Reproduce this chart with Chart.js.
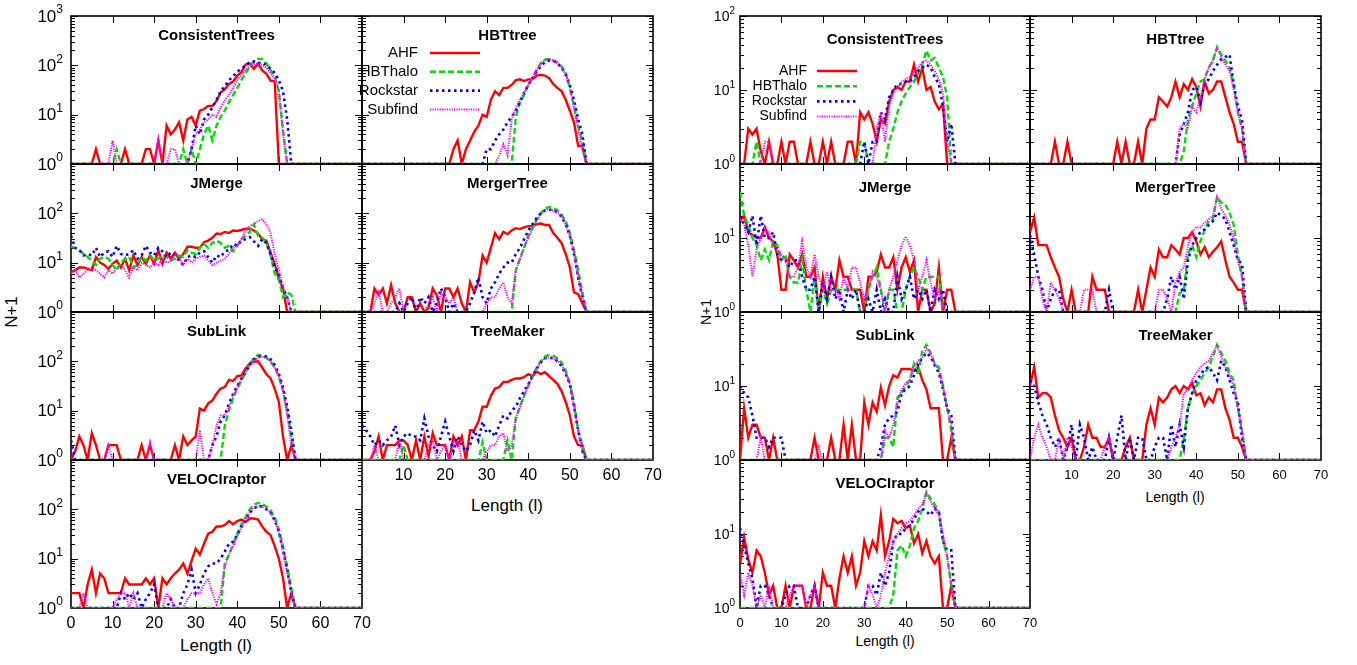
<!DOCTYPE html>
<html>
<head>
<meta charset="utf-8">
<script src="https://cdn.jsdelivr.net/npm/chart.js@4.4.0/dist/chart.umd.min.js"></script>
<style>
  body { margin: 0; background: #fff; width: 1357px; height: 665px; position: relative; overflow: hidden;
         font-family: "Liberation Sans", Arial, Helvetica, sans-serif; }
  canvas { position: absolute; }
  .axt { position: absolute; color: #000; white-space: nowrap; transform: translate(-50%, -50%); }
  .rot { transform: translate(-50%, -50%) rotate(-90deg); }
</style>
</head>
<body>
<div class="axt rot" style="left:12px;top:312px;font-size:17px">N+1</div>
<div class="axt" style="left:507px;top:506px;font-size:17px">Length (l)</div>
<div class="axt" style="left:216px;top:646px;font-size:17px">Length (l)</div>
<div class="axt rot" style="left:706px;top:312px;font-size:14px">N+1</div>
<div class="axt" style="left:1175px;top:497px;font-size:14px">Length (l)</div>
<div class="axt" style="left:885px;top:641px;font-size:14px">Length (l)</div>
<script>
// ==================== DATA ====================
// N+1 per length l, starting at l = 0; beyond the last value every series sits at 1 up to l = 70
const seriesNames = ['AHF', 'HBThalo', 'Rockstar', 'Subfind'];
const xTicksFull = [0, 10, 20, 30, 40, 50, 60, 70];
const xTicksNoZero = [10, 20, 30, 40, 50, 60, 70];

// --- left block (N+1 up to 10^3) ---
const ctL_AHF  = [1,1,1,1,1,1,2,1,1,1, 1,1,1,2,1,1,1,1,2,2, 1,3,1,6,4,5,7,3,8,9, 6,12,13,15,15,19,28,33,42,47, 62,73,104,108,85,108,79,67,49,47, 1];
const ctL_HBT  = [1,1,1,1,1,1,1,1,1,1, 1,2,1,1,1,1,1,1,1,1, 1,1,1,1,1,1,1,2,1,2, 1,2,4,6,3,6,9,12,18,25, 35,50,70,95,120,135,135,110,80,60, 30,5,1];
const ctL_Rock = [1,1,1,1,1,1,1,1,1,1, 1,1,1,1,1,1,1,1,1,1, 1,1,1,1,1,1,1,1,1,2, 6,4,8,10,14,20,30,38,50,60, 75,85,100,115,120,110,115,100,85,70, 50,30,8,1];
const ctL_Sub  = [1,1,1,1,1,1,1,1,1,1, 3,1,1,1,1,1,1,1,1,1, 1,3,1,1,2,2,1,1,1,2, 4,5,7,8,10,9,14,20,25,35, 50,65,80,100,105,110,100,90,70,55, 30,4,1];

const hbtL_AHF  = [1,1,1,1,1,1,1,1,1,1, 1,1,1,1,1,1,1,1,1,1, 1,1,2,3,1,2,3,4.5,6,10, 9,20,30,25,35,35,40,50,52,48, 52,52,62,64,62,55,42,35,30,20, 12,7,2.3,2.3,1];
const hbtL_HBT  = [1,1,1,1,1,1,1,1,1,1, 1,1,1,1,1,1,1,1,1,1, 1,1,1,1,1,1,1,1,1,1, 1,1,1,1,1,1,1,9,18,25, 40,55,80,110,130,135,125,115,95,70, 35,15,6,3,1];
const hbtL_Rock = [1,1,1,1,1,1,1,1,1,1, 1,1,1,1,1,1,1,1,1,1, 1,1,1,1,1,1,1,1,1,1, 2,2,3,4,5,7,9,12,18,28, 40,55,75,95,115,125,125,110,90,65, 40,20,8,4,1];
const hbtL_Sub  = [1,1,1,1,1,1,1,1,1,1, 1,1,1,1,1,1,1,1,1,1, 1,1,1,1,1,1,1,1,1,1, 1,1,1,1.5,2.5,1.5,8,14,20,28, 40,55,80,110,130,135,125,110,90,65, 35,14,5,2,1];

const jmL_AHF  = [6.5,7,8,8,7.5,7,13,10,9,7.5, 9.5,11,8,12,7,14,9,13,9.5,14, 9.5,18,9.5,16,12,16,12,15,21,21, 20,20,26,28,32,39,38,42,40,45, 44,46,49,49,45,39,30,28,16,9.5, 4.7,3,1];
const jmL_HBT  = [21,20,18,15,13,11,9,12,13,12, 9,7,10,12,13,8,9,13,11,14, 11,12,14,13,11,12,14,13,18,16, 15,20,24,20,25,28,25,20,22,17, 22,30,35,42,60,35,32,25,14,6, 4.5,2,2.5,2.2,1];
const jmL_Rock = [35,20,18,14,15,14,20,13,16,17, 13,22,15,14,15,18,12,14,22,16, 14,20,17,13,16,14,11,9,13,14, 13,16,17,13,10,14,13,17,18,24, 22,28,30,33,27,22,30,25,15,8, 6,3,2,1];
const jmL_Sub  = [6,7,5,6,7,8,7,6,5,7, 6,8,9,7,5,8,7,10,9,8, 10,9,12,10,11,15,12,9,12,10, 12,13,14,11,9,10,11,12,15,20, 22,30,45,55,60,70,75,60,40,15, 7,3,2,1];

const mtL_AHF  = [1,1,1,3,2.2,3,1.5,3.5,1.5,1, 1,2,2,1,1.5,1,1.2,3,2.2,1, 3,3,2,3,1.5,1,4,2.5,4,14, 10,20,40,30,42,38,45,50,48,52, 55,55,60,62,58,58,40,32,25,15, 8,2.5,2.3,1.5,1];
const mtL_HBT  = [1,1,1,1,1,1,1,1,1,1, 1,1,1,1,1,1,1,1,1,1, 1,1,1,1,1,1,1,1,1,1, 1,1,1,1,1,1,1,7,12,20, 35,50,75,100,125,135,130,115,95,70, 40,18,7,2.5,1];
const mtL_Rock = [1,1,1,1,1,1,1,1,1,1.5, 1,1.5,2,1,2,1.5,2,1,1.5,3, 2,1,1.5,1,1,1,1.5,2.5,5,2, 1.5,3,4,6,8,10,10,15,20,30, 45,60,80,100,115,120,115,105,85,60, 35,15,5,2,1];
const mtL_Sub  = [1,1,1,1.5,2.5,1,1,1.5,2,3, 1,1,1,1,1,1,1.5,2,1,2.5, 2,1.5,2,1,1,1,1,1,1,1, 1.5,2,2,3,4,2,1.5,7,12,20, 32,48,70,95,115,120,115,105,85,60, 35,15,5,2,1];

const slL_AHF  = [1,1.5,3,2,1,3.5,2,1,1,2, 2,2,1,1,1,1,1,2,1,2, 1,1,1,1,1,2,1,3,2,2.5, 3,11,10,14,16,22,28,30,42,40, 50,52,72,90,98,100,75,55,45,28, 15,3,1,2,1];
const slL_HBT  = [1,1,1,1,1,1,1,1,1,1, 1,1,1,1,1,1,1,1,1,1, 1,1,1,1,1,1,1,1,1,1, 1,1,1,1,1,1,1,5,10,18, 28,40,60,90,115,135,130,120,100,75, 50,25,10,3,1];
const slL_Rock = [2.5,1,1,1,1,1,1,1,1,1, 1,1,1,1,1,1,1,1,1,1, 1,1,1,1,1,1,1,1,1,1, 1,1,1,1,2,3,6,8,14,22, 32,45,60,85,110,125,130,125,110,85, 55,30,12,4,1];
const slL_Sub  = [1,1,1,1,1,1,1,1,1,2, 1,1,1,1,1,1,1,1,1,2.3, 1,1,1,1,1,1,1,1,1,1, 1,4,1,1,2,5,8,8,12,20, 30,45,60,80,100,120,125,115,100,75, 50,25,8,2,1];

const tmL_AHF  = [1,1,1,1.5,3,1,2,2,2,2.5, 2.5,2,1,2.5,1,3,1.2,3.5,2,2, 2,1,3,2,3,1,4,4,6,12, 12,20,28,30,38,38,42,45,45,48, 55,50,62,55,60,50,42,35,25,15, 8,3,2,2,1];
const tmL_HBT  = [1,1,1,1,1,1,1,1,1,1, 2,1,1,1,1,1,1,1,1,1, 1,1,1,1,1,1,1,1,1,2.3, 1,1,1,1,1,2.5,1,7,12,20, 32,50,75,100,125,135,130,115,95,65, 35,15,4,2,1];
const tmL_Rock = [5,4,3,2,2.5,2,2.5,3,5,2, 3,3.5,3,3,2.5,7,3,2,1.5,3, 6,3,1.5,3,2,1.5,2,4,2.5,6, 3.5,4,3,5,8,7,10,12,18,25, 35,50,70,95,115,120,115,100,80,55, 35,12,4,1.5,1];
const tmL_Sub  = [1,1,1,2,1,1,1,1,1,2.5, 1,1,1,1,1,1,2,2.5,1,1.5, 2,1,2,2.5,1,1,1,1,1,1, 1.5,2,2,3,3.5,1.5,2,7,12,20, 32,48,70,95,115,120,115,105,85,60, 35,12,4,1.5,1];

const vrL_AHF  = [2,2,2,1,3,6,2,5,4,2, 2,2,2,4,3,3,3,3,4,3, 4,1,4,3,4,5,6,8,5,9, 16,12,20,32,35,45,45,48,58,50, 58,62,55,65,65,62,45,35,30,18, 10,4,1,2,1];
const vrL_HBT  = [1,1,1,1,1,1,1,1,1,1, 1,1,1,1,1,1,1,1,1,1, 1,1,1,1,1,1,1,1,1,1, 1,1,1,1,1,1,1,8,12,20, 32,50,70,100,125,135,130,115,95,70, 40,18,7,2.5,1];
const vrL_Rock = [1,1,1,1,1,1,1,1,1,1, 1,1,2,1.5,2,1.5,2,1,1.5,2, 3,1,1,1,1.5,1,1,2,3,6, 2,3,5,7,8,8,10,14,20,22, 30,45,60,85,105,115,115,100,85,60, 35,15,6,2,1];
const vrL_Sub  = [1,1,1,2,1,1,1,1,1,1, 1,1.5,2,2,1,2,1,1,1,1, 1,1,1,2,1.5,1,1,1,1.5,2, 2,2,3,4,2,1.2,2,7,12,18, 28,42,62,90,110,115,115,105,85,60, 35,14,5,2,1];

// --- right block (N+1 up to 10^2) ---
const ctR_AHF  = [1,1,3,2.5,3,1.5,1,2,1,1, 2,1,2,2,1,1,1,2,1,1, 2,1,2,1,1,1,2,2,1,5, 4,5,3.5,2,4,3.5,7,10,11,10, 13,13,22,13,20,10,11,7,5.5,6.5, 1];
const ctR_HBT  = [1,1,1,1,2,1,1,1,1,1, 1,1,1,1,1,1,1,1,1,1, 1,1,1,1,1,1,1,1,1,2, 2,1,1,1,1,1,2,3,5,7, 9,11,13,17,22,34,25,27,20,15, 8,1];
const ctR_Rock = [1,1,1,1,1,1,1,1,1,1, 1,1,1,1,1,1,1,1,1,1, 1,1,1,1,1,1,1,1,1,1, 2,1,2,2,5,4,8,10,12,12, 13,13,15,18,20,22,20,15,12,6, 2,3.5,1];
const ctR_Sub  = [1,1,1,1,1,1,2,2,1,1, 1,1,1,1,1,1,1,1,1,1, 1,1,1,1,1,1,1,1,1,1, 1,1,1,3,5,2,6,9,11,13, 14,15,17,20,24,25,22,18,14,9, 2,1];

const hbtR_AHF  = [1,1,1,1,1,1,2,1,1,2, 1,1,1,1,1,1,1,1,1,1, 1,2,1,2,1,1,2,1,3,4, 4,8,7,6,8,13,8,12,10,14, 11,6,13,9,10,13,13,8,5,3.5, 2,2,1];
const hbtR_HBT  = [1,1,1,1,1,1,1,1,1,1, 1,1,1,1,1,1,1,1,1,1, 1,1,1,1,1,1,1,1,1,1, 1,1,1,1,1,1,1,1.5,4,6, 9,13,14,20,25,38,30,25,20,12, 5,3,1];
const hbtR_Rock = [1,1,1,1,1,1,1,1,1,1, 1,1,1,1,1,1,1,1,1,1, 1,1,1,1,1,1,1,1,1,1, 1,1,1,1,1,1,2.5,3.5,5,10, 11,7,12,14,18,22,26,28,30,12, 6,4,1];
const hbtR_Sub  = [1,1,1,1,1,1,1,1,1,1, 1,1,1,1,1,1,1,1,1,1, 1,1,1,1,1,1,1,1,1,1, 1,1,1,1,1,1,3,3.5,3,6, 5,8,14,20,25,37,28,22,18,10, 5,3,1];

const jmR_AHF  = [17,20,12,11,10,10,14,10,9,6, 2,2,6,5,4,6,3,3,4,1, 3,1.5,3,2,5,3,3,2,2,2, 1,3,3,3.5,6,4,4,5.5,2,4, 5.5,3.5,5,1,2,2,1,1.3,4,1, 2,2,1];
const jmR_HBT  = [42,20,15,10,8,5,7,5,9,8, 5,6,3,2.5,2.5,5,2,1,3,1, 2,1.3,2,2,2,2,2,2,2,1, 1,2,3,4,2,1,2,2,1,1, 2,3,4,3,2,3,3,3,3,1, 1];
const jmR_Rock = [20,15,12,20,8,20,10,10,12,6, 5,5,4,5,5,3,2,2,3,1, 2.5,1.5,3,1.5,2,1,2,1.5,2,1, 1,1.5,1,2,1,1.5,1,1,3,1.5, 2,3,1.5,2,1.5,2,1,2,1.5,2, 1];
const jmR_Sub  = [18,15,8,3,7,10,13,12,8,7, 6,5,3,3,4,9,4,3,6,3, 2,3.5,2,2,1.5,3,2,4,4,2.5, 1.5,2,3.5,3,2,1,2,3,5,8, 10.5,8,5,2,3,5,2.5,1.5,2,1, 1];

const mtR_AHF  = [12,19,8,8,8,5.5,4,3,1.5,1, 2,1,1,1,1,3,2,2,2,1, 1,1,1,1,1,1,2,1,2,4, 3,7,5.5,5.5,8,7,6,10,10,12, 9,6,7.5,5.5,6.5,7.5,9,5,3,2.5, 2,2,1];
const mtR_HBT  = [1,1,1,1,1,1,1,1,1,1, 1,1,1,1,1,1,1,1,1,1, 1,1,1,1,1,1,1,1,1,1, 1,1,1,1,1,1,1.8,2,6,8, 5.5,9,13,17,18,36,30,28,22,15, 6,3,1];
const mtR_Rock = [11,6,3,2,1,1.5,2,2,1,1, 1,1,1,1,1,1,1,1,1,2, 1,1,1,1,1,1,1,1,1,1, 1,1,1,1.5,3,2,3,1.5,5,8, 10,12,13,15,17,22,20,18,12,8, 5,4.5,1];
const mtR_Sub  = [2,3,3,1.5,1,2.5,2,1.5,1,1, 1,1,1,2,2,2,1,1,1,1, 1,1,1,1,1,1,1,1,1,1, 1,2,2,1.5,1,2.5,3.5,4,8,12, 14,14,16,18,20,36,25,20,15,10, 5,3,1];

const slR_AHF  = [1,5,2,3,3,2,2,1,2,1, 1,1,1,1,1,1,1,1,2,1, 1,1,2,1,1,3,1,3,1,1, 6,3,6,4.5,9.5,5.5,10,14,13,17, 17,17,16,18,12,9,5,5,5,1, 1,2,1];
const slR_HBT  = [1,1,1,1,1,1,1,1,1,1, 1,1,1,1,1,1,1,1,1,1, 1,1,1,1,1,1,1,1,1,1, 1,1,1,1,1,2,2,1.5,7,8, 10,12,20,14,30,36,28,20,18,10, 5,2.5,1];
const slR_Rock = [10,8,7,4,2,2,2,1.5,2,2, 2,1,1,1,1,1,1,1,1,1, 1,1,1,1,1,1,1,1,1,1, 1,1,1,1,1.5,3,3.7,4,4.5,8, 9,10,14,20,24,28,25,19,15,9, 5,4,1];
const slR_Sub  = [1,1,1,1,1,2,1,1,1,1, 1,1,1,1,1,1,1,1,1,1.5, 1,1,1,1,1,1,1,1,1,1, 1,1,1,1,1,2.5,2,3,6,9, 11,12,18,22,24,32,28,20,16,10, 5,3,1];

const tmR_AHF  = [10,18,7,8,8,7,4,2.5,2,1.5, 2,1,1,1.5,3,2,2,1.5,1.5,2, 1,1,1,1.5,2,1,1,1,3,5, 3,7,6,7,9,10,8,10,9,11, 7.5,8,5.5,7,6,9,9,5,3.5,2, 2,1.5,1];
const tmR_HBT  = [1,1,1,1,1,1,1,1,1,1, 1,1,1,1,1,1,1,1,1,1, 1,1,1,1,1,1,1,1,1,1, 1,1,1,1,1,1,1,2,5,8, 10,12,15,18,25,36,28,22,15,12, 5,2.5,1];
const tmR_Rock = [12,10,6,4,3,2,1.5,2,1,1.5, 3,1,3,2,1,1.5,1,1,1,2, 1,2,4,1,2,1,2,2,1,1, 1.5,2,2,1,3,1.5,3,1.5,5,8, 12,14,17,18,15,12,22,18,12,8, 6,2,1];
const tmR_Sub  = [1,2,3,2,1.5,1,1,2,1,2, 1.5,1,1,1,1,1,1,1,1.5,2, 1,1,1,1,1,1,1,1,1,1, 1,1,1,1,1.5,2,3,8,9,12, 15,18,20,22,28,35,25,18,14,10, 5,2.5,1];

const vrR_AHF  = [4,9,4.5,3,6,5,3,1.5,2,1, 1,2,1,2,2,2,1,1,2,1, 3,2,2,1,2.5,5,3,5,2,3, 8,5,8,6,18,5,8,16,14,15, 12,13,7.5,10,5.5,8,5,4,5,1, 1,2,1];
const vrR_HBT  = [1,1,1,1,1,1,1,1,1,1, 1,1,1,1,1,1,1,1,1,1, 1,1,1,1,1,1,1,1,1,1, 1,1,1,1,1,1,1,1.5,6,7, 5,7,12,15,22,37,30,25,20,8, 5,2,1];
const vrR_Rock = [12,7,4,2.5,1,2,2,1.5,1,1, 1,1.5,2,2,1,1,1,1.5,2,1, 1,1,1,1,1,1,1,1,1,1, 1,2,2,1.5,3,2,3,8,10,10, 12,13,16,20,22,20,18,22,20,8, 6,6,1];
const vrR_Sub  = [3,1.5,3,2,1,1.5,1,2,1,1, 1,1,1.5,2,2,2,1,1.5,2,1, 1,1,1,1,1,1,1,1,1,1, 1,2,1.5,1,1.5,3,5,8,10,12, 14,15,18,22,25,35,28,22,18,10, 5,2,1];

// ==================== STYLES ====================
const FONT = '"Liberation Sans", Arial, Helvetica, sans-serif';
const seriesColors = ['#ff0000', '#00dd00', '#0000ff', '#ff00ff'];
const seriesDash = [[], [6, 3], [2.5, 3.5], [1.2, 1.2]];
const seriesWidth = [2.4, 2.4, 2.6, 2];

// sizes for the big (left) and small (right) block
const bigStyle = { tick: 16, yTick: 17, sup: 12, raise: 6, yGap: 8, xGap: 16, title: 15, titleY: 20,
                   leg: 15, legText: 56, legL0: 68, legL1: 118, legY: 37, legStep: 18.8 };
const smallStyle = { tick: 13, yTick: 14, sup: 10, raise: 5, yGap: 5, xGap: 15, title: 15, titleY: 24,
                     leg: 14, legText: 67, legL0: 77, legL1: 117, legY: 55, legStep: 15.2 };

const PAD = { l: 70, t: 12, r: 22, b: 60 };
const ROWS = [16, 164, 312, 460];
const PH = 148;

// ==================== PANEL ====================
function powLabel(ctx, exp, xr, yc, st) {
    ctx.font = st.sup + 'px ' + FONT;
    const ws = ctx.measureText(String(exp)).width;
    ctx.textAlign = 'left';
    ctx.textBaseline = 'middle';
    ctx.fillText(String(exp), xr - ws, yc - st.raise);
    ctx.font = st.yTick + 'px ' + FONT;
    const wb = ctx.measureText('10').width;
    ctx.fillText('10', xr - ws - wb, yc + 1);
}

function decoPlugin(p) {
    const st = p.st;
    return {
        id: 'deco',
        beforeDatasetsDraw(chart) {
            const { ctx, chartArea: a, scales: { x, y } } = chart;
            ctx.save();
            ctx.strokeStyle = '#000';
            ctx.lineWidth = 1;
            ctx.beginPath();
            for (let v = 10; v < 70; v += 10) {
                const px = Math.round(x.getPixelForValue(v)) + 0.5;
                ctx.moveTo(px, a.bottom); ctx.lineTo(px, a.bottom - 7);
                ctx.moveTo(px, a.top); ctx.lineTo(px, a.top + 7);
            }
            for (let d = 1; d < p.yMax; d *= 10) {
                for (let m = 2; m <= 10; m++) {
                    const py = Math.round(y.getPixelForValue(d * m)) + 0.5;
                    const len = m === 10 ? 7 : 4;
                    ctx.moveTo(a.left, py); ctx.lineTo(a.left + len, py);
                    ctx.moveTo(a.right, py); ctx.lineTo(a.right - len, py);
                }
            }
            ctx.stroke();
            ctx.lineWidth = 1.6;
            ctx.strokeRect(a.left, a.top, a.right - a.left, a.bottom - a.top);
            ctx.restore();
        },
        afterDatasetsDraw(chart) {
            const { ctx, chartArea: a, scales: { x, y } } = chart;
            ctx.save();
            ctx.fillStyle = '#000';

            // panel title
            ctx.font = 'bold ' + st.title + 'px ' + FONT;
            ctx.textAlign = 'center';
            ctx.textBaseline = 'middle';
            ctx.fillText(p.title, (a.left + a.right) / 2, a.top + st.titleY);

            // y tick labels
            (p.yLab || []).forEach(e => powLabel(ctx, e, a.left - st.yGap, y.getPixelForValue(Math.pow(10, e)), st));

            // x tick labels
            if (p.xLab) {
                ctx.font = st.tick + 'px ' + FONT;
                ctx.textAlign = 'center';
                ctx.textBaseline = 'middle';
                p.xLab.forEach(v => ctx.fillText(String(v), x.getPixelForValue(v), a.bottom + st.xGap));
            }

            // key
            if (p.legend) {
                chart.data.datasets.forEach((ds, i) => {
                    const ly = a.top + st.legY + i * st.legStep;
                    ctx.font = st.leg + 'px ' + FONT;
                    ctx.textAlign = 'right';
                    ctx.textBaseline = 'middle';
                    ctx.fillStyle = '#000';
                    ctx.fillText(ds.label, a.left + st.legText, ly);
                    ctx.beginPath();
                    ctx.strokeStyle = ds.borderColor;
                    ctx.lineWidth = ds.borderWidth;
                    ctx.setLineDash(ds.borderDash);
                    ctx.moveTo(a.left + st.legL0, ly);
                    ctx.lineTo(a.left + st.legL1, ly);
                    ctx.stroke();
                    ctx.setLineDash([]);
                });
            }
            ctx.restore();
        }
    };
}

function panel(p) {
    const c = document.createElement('canvas');
    const w = p.w + PAD.l + PAD.r, h = PH + PAD.t + PAD.b;
    c.width = w; c.height = h;
    c.style.left = (p.x - PAD.l) + 'px';
    c.style.top = (p.y - PAD.t) + 'px';
    c.style.width = w + 'px';
    c.style.height = h + 'px';
    document.body.appendChild(c);

    const datasets = p.series.map((vals, i) => ({
        label: seriesNames[i],
        data: vals.map((v, k) => ({ x: k, y: v })).concat([{ x: 70, y: 1 }]),
        borderColor: seriesColors[i],
        borderWidth: seriesWidth[i],
        borderDash: seriesDash[i],
        borderCapStyle: 'butt',
        pointRadius: 0,
        tension: 0,
        order: 3 - i
    }));

    new Chart(c, {
        type: 'line',
        data: { datasets },
        options: {
            responsive: false,
            animation: false,
            devicePixelRatio: 1,
            layout: { padding: { left: PAD.l, top: PAD.t, right: PAD.r, bottom: PAD.b } },
            plugins: { legend: { display: false }, tooltip: { enabled: false } },
            scales: {
                x: { type: 'linear', min: 0, max: 70, display: false },
                y: { type: 'logarithmic', min: 1, max: p.yMax, display: false }
            }
        },
        plugins: [decoPlugin(p)]
    });
}

// ==================== LEFT BLOCK ====================
panel({ x: 71,  y: ROWS[0], w: 291, yMax: 1000, st: bigStyle, title: 'ConsistentTrees', series: [ctL_AHF, ctL_HBT, ctL_Rock, ctL_Sub], yLab: [0, 1, 2, 3] });
panel({ x: 362, y: ROWS[0], w: 291, yMax: 1000, st: bigStyle, title: 'HBTtree', series: [hbtL_AHF, hbtL_HBT, hbtL_Rock, hbtL_Sub], legend: true });
panel({ x: 71,  y: ROWS[1], w: 291, yMax: 1000, st: bigStyle, title: 'JMerge', series: [jmL_AHF, jmL_HBT, jmL_Rock, jmL_Sub], yLab: [0, 1, 2] });
panel({ x: 362, y: ROWS[1], w: 291, yMax: 1000, st: bigStyle, title: 'MergerTree', series: [mtL_AHF, mtL_HBT, mtL_Rock, mtL_Sub] });
panel({ x: 71,  y: ROWS[2], w: 291, yMax: 1000, st: bigStyle, title: 'SubLink', series: [slL_AHF, slL_HBT, slL_Rock, slL_Sub], yLab: [0, 1, 2] });
panel({ x: 362, y: ROWS[2], w: 291, yMax: 1000, st: bigStyle, title: 'TreeMaker', series: [tmL_AHF, tmL_HBT, tmL_Rock, tmL_Sub], xLab: xTicksNoZero });
panel({ x: 71,  y: ROWS[3], w: 291, yMax: 1000, st: bigStyle, title: 'VELOCIraptor', series: [vrL_AHF, vrL_HBT, vrL_Rock, vrL_Sub], yLab: [0, 1, 2], xLab: xTicksFull });

// ==================== RIGHT BLOCK ====================
panel({ x: 740,  y: ROWS[0], w: 290, yMax: 100, st: smallStyle, title: 'ConsistentTrees', series: [ctR_AHF, ctR_HBT, ctR_Rock, ctR_Sub], yLab: [0, 1, 2], legend: true });
panel({ x: 1030, y: ROWS[0], w: 291, yMax: 100, st: smallStyle, title: 'HBTtree', series: [hbtR_AHF, hbtR_HBT, hbtR_Rock, hbtR_Sub] });
panel({ x: 740,  y: ROWS[1], w: 290, yMax: 100, st: smallStyle, title: 'JMerge', series: [jmR_AHF, jmR_HBT, jmR_Rock, jmR_Sub], yLab: [0, 1] });
panel({ x: 1030, y: ROWS[1], w: 291, yMax: 100, st: smallStyle, title: 'MergerTree', series: [mtR_AHF, mtR_HBT, mtR_Rock, mtR_Sub] });
panel({ x: 740,  y: ROWS[2], w: 290, yMax: 100, st: smallStyle, title: 'SubLink', series: [slR_AHF, slR_HBT, slR_Rock, slR_Sub], yLab: [0, 1] });
panel({ x: 1030, y: ROWS[2], w: 291, yMax: 100, st: smallStyle, title: 'TreeMaker', series: [tmR_AHF, tmR_HBT, tmR_Rock, tmR_Sub], xLab: xTicksNoZero });
panel({ x: 740,  y: ROWS[3], w: 290, yMax: 100, st: smallStyle, title: 'VELOCIraptor', series: [vrR_AHF, vrR_HBT, vrR_Rock, vrR_Sub], yLab: [0, 1], xLab: xTicksFull });
</script>
</body>
</html>
